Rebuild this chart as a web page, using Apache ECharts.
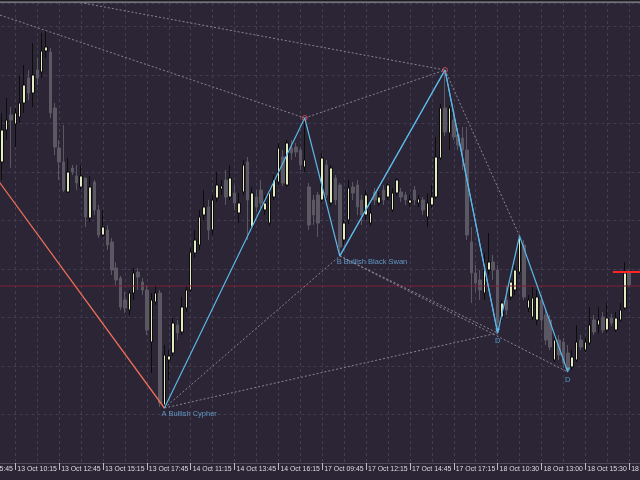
<!DOCTYPE html>
<html><head><meta charset="utf-8">
<script src="https://cdn.jsdelivr.net/npm/echarts@6/dist/echarts.min.js"></script>
<style>html,body{margin:0;padding:0;background:#2b2536}#c{width:640px;height:480px}</style>
</head><body><div id="c"></div>
<script>
// Prices in points above 1.1000 (price = 1.1000 + v/10000), 15-minute bars
const tickLabels = ["13 Oct 05:45","13 Oct 10:15","13 Oct 12:45","13 Oct 15:15","13 Oct 17:45","14 Oct 11:15","14 Oct 13:45","14 Oct 16:15","17 Oct 09:45","17 Oct 12:15","17 Oct 14:45","17 Oct 17:15","18 Oct 10:30","18 Oct 13:00","18 Oct 15:30","18 Oct 18:00"];
const opens = [838,870,885,876,883,897,922,907,930,928,
949,948,892,852,838,808,832,824,813,822,
782,818,790,765,770,758,732,722,700,690,
707,728,718,710,658,698,707,595,640,647,
675,668,692,710,747,755,785,793,770,802,
811,820,803,807,787,808,838,773,803,810,
790,777,803,818,843,815,852,853,850,833,
813,800,805,800,835,797,822,815,760,780,
813,815,800,785,777,808,797,810,803,790,
807,808,805,797,810,797,800,783,795,803,
842,892,867,880,865,862,850,758,727,720,
707,730,738,730,683,700,703,710,728,755,
692,683,680,700,685,680,640,660,658,647,
633,640,660,650,657,680,675,683,670,682,
670,680,692,727];
const closes = [870,880,880,887,897,915,907,925,922,949,
953,887,853,838,810,828,828,817,824,783,
813,790,765,773,755,730,720,693,692,707,
727,723,710,670,700,707,597,645,644,677,
667,693,710,748,760,783,793,770,800,815,
814,803,822,797,797,835,800,807,793,797,
797,807,820,852,817,857,847,848,835,840,
775,785,777,842,805,832,800,753,777,812,
807,793,785,805,787,800,803,800,815,807,
820,803,800,800,800,801,790,797,803,843,
892,868,892,863,855,850,765,727,717,710,
730,738,730,677,697,690,718,730,762,703,
700,702,703,680,660,653,660,645,637,630,
643,658,653,658,675,668,680,670,682,677,
682,690,727,715];
const highs = [887,902,893,892,925,935,930,957,942,967,
970,952,897,860,875,842,835,835,835,822,
824,820,795,790,775,762,738,724,708,710,
732,732,722,715,707,715,710,655,650,682,
680,703,715,752,770,790,810,800,805,828,
820,830,835,815,807,840,843,813,810,820,
805,812,825,857,850,860,860,857,853,882,
817,805,808,847,840,835,825,817,780,820,
818,820,805,810,800,812,808,815,817,812,
822,812,808,805,814,805,803,807,815,863,
896,930,895,885,872,873,873,773,735,730,
747,767,745,735,700,715,725,735,764,760,
705,713,710,705,690,685,667,665,662,655,
650,675,665,662,693,685,693,688,697,686,
688,697,738,730];
const lows = [820,860,832,853,877,887,900,893,915,922,
942,882,845,820,808,807,825,810,810,773,
778,785,762,763,750,725,715,690,687,685,
700,710,705,665,627,695,593,592,620,644,
660,665,688,708,742,750,780,760,765,798,
805,795,800,790,777,805,760,770,788,792,
785,774,800,815,814,813,840,843,830,828,
770,775,763,797,802,794,795,744,755,776,
800,785,775,780,774,795,794,795,800,788,
804,798,795,793,795,793,785,773,792,801,
840,864,850,860,850,830,760,697,708,700,
700,725,720,667,678,685,700,705,725,700,
688,680,675,670,655,650,638,640,632,628,
630,638,650,648,655,665,667,667,667,674,
668,678,690,713];

// pattern pivots as [barIndex, points]
const cypherPath = [[37,592],[69,882],[77,744],[101,930],[113,667]];
const swanPath = [[77,744],[101,930],[113,667],[118,764],[129,628]];
const dashedLegs = [
  [[37,592],[77,744]], [[37,592],[113,667]], [[69,882],[101,930]],
  [[101,930],[118,764]], [[77,744],[113,667]], [[77,744],[129,628]],
  [[-10,999],[69,882]], [[-10,1020],[101,930]]
];
const redLeg = [[-10,874],[37,592]];
const bidLevel = 714;
const askMarkLevel = 728;
const patternLabels = [
  {pt:[37,592], text:"A Bullish Cypher"},
  {pt:[77,744], text:"B Bullish Black Swan"}
];
const dPoints = [[113,667],[129,628]];
const ringPoints = [[69,882],[101,930]];

const PRE = 7, TOTAL = 154;
const cats = [];
const candles = [];
for (let j = 0; j < TOTAL; j++) {
  cats.push(j % 10 === 0 ? tickLabels[j/10] : '');
  const b = j - PRE;
  if (b >= 0 && b < opens.length) candles.push([opens[b], closes[b], lows[b], highs[b]]);
  else candles.push(['-','-','-','-']);
}

const FONT = 'Liberation Sans, Arial, sans-serif';
const BLUE = '#5cb6e6';
const series = [];
series.push({
  type:'candlestick', xAxisIndex:0, yAxisIndex:0, data:candles, barWidth:3,
  itemStyle:{color:'#e3ebc3', color0:'#5b5863', borderColor:'#0c0c0c', borderColor0:'#5b5863', borderWidth:1}
});
const lineS = (data, color, width, type) => ({
  type:'line', xAxisIndex:1, yAxisIndex:0, data, symbol:'none', silent:true, animation:false,
  lineStyle:{color, width, type: type || 'solid'}, z:3
});
series.push(lineS([[-8,bidLevel],[147,bidLevel]], '#7c2034', 1));
dashedLegs.forEach(seg => series.push(lineS(seg, '#8a8596', 1, [2,2])));
series.push(lineS(redLeg, '#ec6f58', 1.3));
series.push(lineS(cypherPath, BLUE, 1.2));
series.push(lineS(swanPath, BLUE, 1.2));
series.push(lineS([[139.3,askMarkLevel],[147,askMarkLevel]], '#ff2323', 2));
series.push({
  type:'scatter', xAxisIndex:1, yAxisIndex:0, data:ringPoints, symbol:'circle', symbolSize:5, z:4,
  itemStyle:{color:'rgba(0,0,0,0)', borderColor:'#e0505c', borderWidth:1}
});
series.push({
  type:'scatter', xAxisIndex:1, yAxisIndex:0, symbol:'triangle', symbolRotate:180, symbolSize:5,
  symbolOffset:[0,-2], z:4, itemStyle:{color:BLUE},
  data: dPoints.map(p => ({value:p, label:{show:true, formatter:'D', position:'bottom', distance:3, color:BLUE, fontSize:7.5, fontFamily:FONT}}))
});
series.push({
  type:'scatter', xAxisIndex:1, yAxisIndex:0, symbolSize:0, z:5,
  data: patternLabels.map(l => ({value:l.pt, label:{show:true, formatter:l.text, position:[-3,2], align:'left', verticalAlign:'top', color:'#6fb2e2', fontSize:7.5, fontFamily:FONT}}))
});

const chart = echarts.init(document.getElementById('c'));
chart.setOption({
  backgroundColor:'#2b2536',
  animation:false,
  grid:{left:-28.5, right:-2.3, top:3, bottom:17, containLabel:false, outerBoundsMode:'none'},
  xAxis:[
    {type:'category', data:cats, boundaryGap:false,
     axisLine:{show:true, lineStyle:{color:'#4e485c'}},
     axisTick:{show:true, interval:(i)=>i%10===0, length:7, lineStyle:{color:'#bdbdc2'}},
     axisLabel:{interval:(i)=>i%10===0, align:'left', margin:3, color:'#dcdce0', fontSize:6.9, fontFamily:FONT, padding:[0,0,0,2]},
     splitLine:{show:true, interval:(i)=>i%5===0, lineStyle:{color:'#433d52', type:[3,3], width:1}}},
    {type:'value', min:-7, max:146, show:false}
  ],
  yAxis:[
    {type:'value', min:537, max:997, show:false, splitLine:{show:false}},
    {type:'value', min:0, max:460/48.5, interval:1, axisLine:{show:false}, axisTick:{show:false}, axisLabel:{show:false},
     splitLine:{show:true, lineStyle:{color:'#433d52', type:[3,3], width:1}}}
  ],
  graphic:[
    {type:'rect', shape:{x:0,y:0,width:640,height:1.5}, style:{fill:'#1c1b20'}, z:100},
    {type:'line', shape:{x1:0,y1:2.2,x2:640,y2:2.2}, style:{stroke:'#8c8c92', lineWidth:1.2}, z:100}
  ],
  series
});
</script></body></html>
